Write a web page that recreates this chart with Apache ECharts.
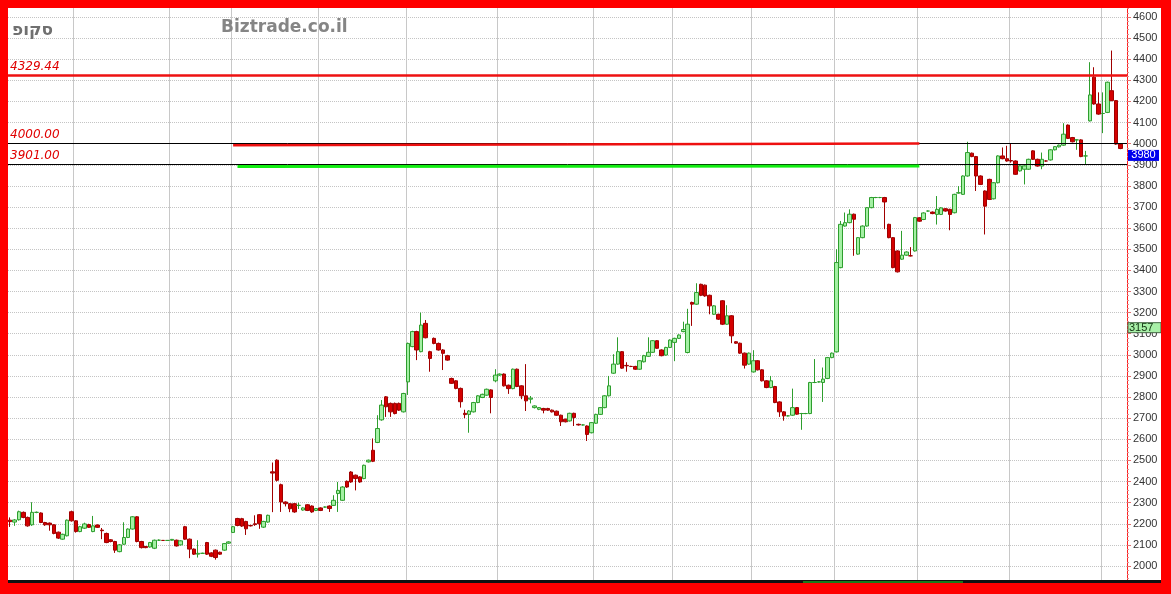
<!DOCTYPE html>
<html><head><meta charset="utf-8">
<script src="https://cdn.jsdelivr.net/npm/echarts@6/dist/echarts.min.js"></script>
<style>html,body{margin:0;padding:0;background:#fff}#c{width:1171px;height:594px}</style>
</head><body><div id="c"></div>
<script>
// [open, close, low, high]
const ohlc = [
[2217,2210,2185,2230],[2208,2218,2190,2222],[2219,2257,2215,2262],[2254,2230,2226,2258],[2230,2190,2186,2234],
[2195,2254,2190,2302],[2254,2254,2250,2258],[2251,2206,2203,2254],[2206,2195,2190,2209],[2203,2195,2167,2206],
[2195,2154,2150,2198],[2160,2132,2128,2163],[2127,2150,2124,2153],[2143,2217,2140,2220],[2257,2214,2210,2262],
[2214,2163,2158,2217],[2163,2186,2160,2190],[2179,2199,2175,2205],[2196,2183,2180,2200],[2163,2190,2160,2237],
[2194,2183,2180,2197],[2170,2167,2127,2180],[2154,2111,2108,2158],[2124,2116,2112,2127],[2116,2075,2062,2119],
[2068,2100,2065,2104],[2103,2135,2100,2207],[2135,2175,2132,2178],[2175,2233,2172,2236],[2233,2116,2112,2236],
[2116,2087,2083,2119],[2092,2087,2084,2095],[2090,2111,2087,2114],[2084,2122,2080,2125],[2122,2122,2119,2126],
[2121,2121,2119,2123],[2121,2121,2119,2123],[2122,2126,2120,2128],[2122,2095,2092,2125],[2100,2119,2097,2122],
[2186,2127,2124,2190],[2127,2080,2037,2130],[2080,2056,2052,2083],[2056,2060,2040,2122],[2060,2060,2057,2063],
[2111,2056,2052,2114],[2062,2046,2042,2065],[2075,2040,2030,2078],[2065,2056,2053,2068],[2075,2106,2072,2109],
[2108,2114,2105,2117],[2159,2186,2156,2190],[2225,2192,2188,2228],[2224,2189,2185,2228],[2211,2176,2147,2214],
[2192,2190,2187,2195],[2200,2196,2190,2240],[2243,2200,2176,2246],[2184,2211,2180,2214],[2208,2240,2205,2243],
[2446,2440,2255,2490],[2501,2406,2400,2505],[2385,2303,2256,2390],[2303,2295,2282,2306],[2295,2271,2255,2298],
[2295,2256,2252,2298],[2287,2287,2270,2300],[2265,2275,2262,2278],[2290,2263,2260,2293],[2284,2256,2252,2287],
[2263,2272,2260,2275],[2275,2263,2260,2278],[2279,2279,2276,2282],[2284,2272,2256,2287],[2287,2311,2284,2335],
[2343,2358,2256,2398],[2311,2374,2308,2378],[2401,2374,2370,2405],[2445,2398,2394,2449],[2430,2414,2358,2433],
[2422,2398,2394,2425],[2414,2477,2411,2480],[2493,2501,2490,2504],[2548,2496,2492,2604],[2585,2651,2582,2714],
[2692,2762,2688,2786],[2801,2754,2706,2805],[2770,2730,2706,2774],[2770,2722,2718,2774],[2770,2738,2734,2774],
[2730,2817,2727,2820],[2872,3054,2810,3058],[3039,3110,3036,3114],[3110,3023,2975,3114],[3015,3141,3012,3200],
[3149,3081,3078,3165],[3015,2983,2920,3019],[3078,3054,3050,3082],[3054,3023,3020,3058],[3023,3007,2928,3027],
[2996,2975,2972,3000],[2888,2865,2862,2892],[2877,2841,2837,2880],[2841,2778,2750,2845],[2723,2717,2700,2740],
[2718,2734,2631,2738],[2730,2774,2727,2777],[2774,2806,2771,2809],[2798,2813,2795,2816],[2809,2837,2806,2840],
[2834,2798,2723,2837],[2877,2904,2870,2932],[2904,2909,2900,2912],[2909,2853,2850,2912],[2856,2840,2815,2859],
[2840,2932,2837,2935],[2932,2850,2847,2935],[2853,2806,2790,2856],[2806,2782,2734,2956],[2790,2795,2770,2805],
[2750,2758,2746,2761],[2742,2750,2738,2753],[2746,2738,2723,2749],[2746,2738,2735,2749],[2738,2730,2727,2741],
[2733,2714,2711,2736],[2714,2683,2663,2717],[2695,2683,2680,2698],[2687,2723,2684,2726],[2723,2703,2663,2726],
[2671,2668,2665,2674],[2668,2668,2665,2671],[2663,2623,2592,2666],[2631,2679,2628,2682],[2676,2718,2673,2721],
[2718,2750,2715,2753],[2750,2806,2747,2809],[2806,2853,2803,2900],[2913,2956,2910,3003],[2956,3015,2953,3083],
[3015,2937,2934,3018],[2950,2948,2920,2965],[2945,2945,2942,2948],[2945,2932,2929,2948],[2932,2972,2929,2975],
[2967,2996,2964,3000],[2993,3012,2990,3083],[3012,3067,3009,3070],[3067,3031,3028,3070],[3023,2996,2993,3026],
[2999,3035,2996,3038],[3035,3070,3032,3073],[3059,3078,2970,3081],[3078,3094,3075,3097],[3110,3120,3107,3157],
[3011,3145,3007,3218],[3248,3240,3137,3252],[3240,3295,3237,3339],[3334,3282,3278,3337],[3330,3279,3275,3333],
[3282,3232,3192,3285],[3192,3232,3189,3235],[3192,3169,3165,3195],[3256,3145,3141,3259],[3145,3185,3142,3235],
[3185,3090,3055,3188],[3062,3055,3052,3065],[3055,3008,3005,3058],[3008,2951,2935,3011],[2956,3008,2953,3011],
[2919,2972,2916,3022],[2972,2929,2926,2975],[2929,2877,2874,2932],[2877,2845,2842,2880],[2845,2877,2842,2900],
[2850,2774,2771,2853],[2777,2730,2706,2780],[2730,2711,2688,2733],[2711,2711,2708,2714],[2714,2750,2711,2840],
[2750,2719,2716,2753],[2722,2722,2645,2725],[2722,2722,2719,2725],[2722,2869,2719,2872],[2869,2869,2866,2980],
[2872,2872,2869,2875],[2869,2885,2777,2940],[2888,2987,2885,2990],[2987,3008,2984,3011],[3014,3437,3011,3500],
[3413,3618,3410,3634],[3610,3626,3607,3674],[3626,3666,3623,3689],[3666,3642,3469,3669],[3477,3555,3474,3558],
[3555,3610,3552,3613],[3610,3697,3607,3700],[3697,3745,3694,3748],[3745,3745,3742,3748],[3745,3745,3742,3748],
[3745,3724,3595,3748],[3618,3555,3552,3621],[3555,3413,3410,3558],[3492,3393,3390,3495],[3453,3472,3450,3587],
[3472,3487,3469,3490],[3469,3469,3466,3510],[3492,3650,3489,3653],[3649,3633,3630,3652],[3641,3672,3638,3675],
[3681,3681,3678,3684],[3676,3669,3666,3679],[3665,3689,3617,3752],[3665,3696,3662,3699],[3692,3681,3678,3695],
[3689,3665,3590,3692],[3673,3760,3670,3763],[3766,3768,3763,3799],[3760,3847,3757,3850],[3847,3958,3844,4009],
[3955,3939,3936,3958],[3939,3847,3776,3942],[3847,3807,3804,3850],[3776,3704,3570,3779],[3831,3736,3733,3834],
[3739,3815,3736,3818],[3815,3942,3812,3945],[3942,3929,3926,3982],[3929,3918,3915,3990],[3920,3918,3910,4001],
[3918,3855,3852,3921],[3871,3895,3868,3898],[3879,3895,3807,3898],[3879,3926,3876,3929],[3966,3926,3923,3969],
[3926,3894,3891,3929],[3894,3926,3879,3958],[3918,3918,3915,3921],[3923,3971,3920,3974],[3971,3986,3968,3989],
[3985,3993,3982,3996],[3993,4045,3990,4097],[4088,4025,4022,4091],[4029,4009,4006,4032],[4018,4018,3971,4021],
[4018,3939,3936,4021],[3942,3942,3902,3966],[4108,4231,4105,4386],[4315,4188,4185,4362],[4188,4140,4137,4243],
[4143,4143,4050,4243],[4148,4291,4145,4294],[4251,4204,4201,4441],[4204,3998,3995,4207],[3998,3977,3974,4001]
];
const days = ohlc.map((d, i) => String(i + 1)).concat(['']);
const monthLines = [15, 37, 51, 71, 91, 112, 134, 152, 170, 189, 208, 229, 250];
const resistance = 4329.44;
const level4000 = 4000.00;
const level3901 = 3901.00;
const segRed = [[51, 3993], [208, 4001]];
const segGreen = [[52, 3892], [208, 3894]];
const lastPrice = 3980;
const markPrice = 3157;
const yMin = 1900, yMax = 4680, yStep = 100;

const chart = echarts.init(document.getElementById('c'));
const F = '"DejaVu Sans", sans-serif';
const lvlLabel = (txt) => ({
  show: true, position: 'insideStartTop', formatter: txt, distance: [2, 3],
  color: '#e00000', fontStyle: 'italic', fontSize: 12, fontFamily: F
});
chart.setOption({
  animation: false,
  backgroundColor: '#fff',
  grid: { left: 8, right: 44, top: 0.1, bottom: 6.9, containLabel: false },
  xAxis: {
    type: 'category', data: days, boundaryGap: true,
    axisLine: { show: false }, axisTick: { show: false }, axisLabel: { show: false },
    splitLine: { show: true, interval: (i) => monthLines.indexOf(i) >= 0, lineStyle: { color: '#c8c8c8', width: 1 } }
  },
  yAxis: {
    type: 'value', position: 'right', min: yMin, max: yMax, interval: yStep, scale: true,
    axisLine: { show: true, lineStyle: { color: '#ff2020', width: 1 } },
    axisTick: { show: true, length: 4, lineStyle: { color: '#e07070' } },
    minorTick: { show: true, splitNumber: 5, length: 2, lineStyle: { color: '#e09090' } },
    axisLabel: { margin: 6, color: '#333', fontSize: 11, fontFamily: '"Liberation Sans", sans-serif',
      formatter: (v) => (v === yMin || v === yMax) ? '' : String(v) },
    splitLine: { show: true, lineStyle: { color: '#c4c4c4', type: [1, 1], width: 1 } }
  },
  series: [{
    type: 'candlestick', data: ohlc, barWidth: 4,
    itemStyle: { color: '#a4f0a4', color0: '#d40000', borderColor: '#2e9e2e', borderColor0: '#a00000', borderWidth: 1 },
    markLine: {
      silent: true, symbol: 'none', animation: false,
      data: [
        { yAxis: level4000, lineStyle: { color: '#000', width: 1, type: 'solid' }, label: lvlLabel('4000.00') },
        { yAxis: level3901, lineStyle: { color: '#000', width: 1, type: 'solid' }, label: lvlLabel('3901.00') },
        [{ coord: segRed[0], lineStyle: { color: '#ee1010', width: 2.5, type: 'solid' }, label: { show: false } }, { coord: segRed[1] }],
        [{ coord: segGreen[0], lineStyle: { color: '#11ee11', width: 3, type: 'solid' }, label: { show: false } }, { coord: segGreen[1] }],
        { yAxis: resistance - 6, lineStyle: { color: '#ee1111', width: 2.5, type: 'solid' }, label: lvlLabel('4329.44') }
      ]
    }
  }]
});

const yPx = (v) => chart.convertToPixel({ yAxisIndex: 0 }, v);
const yLast = yPx(lastPrice), yMark = yPx(markPrice);
chart.setOption({
  graphic: [
    { type: 'text', left: 12, top: 22, z: 50, style: { text: 'סקופ', fill: '#707070', font: 'bold 17px "DejaVu Sans"' } },
    { type: 'text', left: 221, top: 19, z: 50, style: { text: 'Biztrade.co.il', fill: '#858585', font: 'bold 17px "DejaVu Sans"' } },
    { type: 'rect', z: 60, shape: { x: 1128, y: yLast + 2, width: 31, height: 11 }, style: { fill: '#0000ee' } },
    { type: 'text', z: 61, style: { x: 1143.5, y: yLast + 7.5, text: String(lastPrice), fill: '#fff', font: '11px "Liberation Sans"', align: 'center', verticalAlign: 'middle' } },
    { type: 'rect', z: 60, shape: { x: 1128, y: yMark + 1, width: 33, height: 10 }, style: { fill: '#a8f0a8', stroke: '#446644', lineWidth: 1 } },
    { type: 'text', z: 61, style: { x: 1129, y: yMark + 6.5, text: String(markPrice), fill: '#113311', font: '11px "Liberation Sans"', align: 'left', verticalAlign: 'middle' } },
    { type: 'rect', z: 100, shape: { x: 8, y: 580, width: 1153, height: 3 }, style: { fill: '#111' } },
    { type: 'rect', z: 101, shape: { x: 803, y: 581, width: 160, height: 2 }, style: { fill: '#1a7a1a' } },
    { type: 'rect', z: 102, shape: { x: 0, y: 0, width: 1171, height: 8 }, style: { fill: '#ff0000' } },
    { type: 'rect', z: 102, shape: { x: 0, y: 0, width: 8, height: 594 }, style: { fill: '#ff0000' } },
    { type: 'rect', z: 102, shape: { x: 1161, y: 0, width: 10, height: 594 }, style: { fill: '#ff0000' } },
    { type: 'rect', z: 102, shape: { x: 0, y: 583, width: 1171, height: 11 }, style: { fill: '#ff0000' } }
  ]
});
</script></body></html>
